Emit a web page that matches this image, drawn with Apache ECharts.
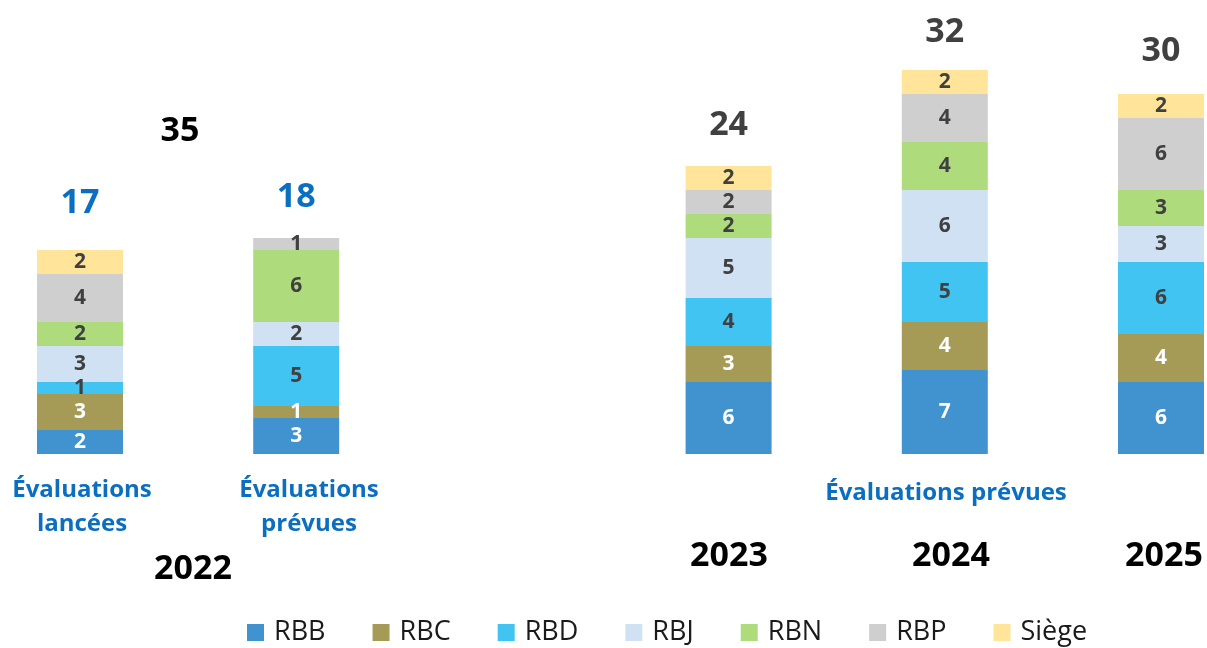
<!DOCTYPE html>
<html>
<head>
<meta charset="utf-8">
<script src="https://cdn.jsdelivr.net/npm/echarts@6/dist/echarts.min.js"></script>
<style>
  html, body { margin: 0; padding: 0; background: #fff; }
</style>
</head>
<body>
<div id="main" style="width: 1207px;height:648px;"></div>
<script type="text/javascript">
    // catégories : 2022 lancées, 2022 prévues, (vide), 2023, 2024, 2025
    var categories = ['2022 lancées', '2022 prévues', '', '2023', '2024', '2025'];
    var rbb   = [2, 3, '-', 6, 7, 6];
    var rbc   = [3, 1, '-', 3, 4, 4];
    var rbd   = [1, 5, '-', 4, 5, 6];
    var rbj   = [3, 2, '-', 5, 6, 3];
    var rbn   = [2, 6, '-', 2, 4, 3];
    var rbp   = [4, 1, '-', 2, 4, 6];
    var siege = [2, '-', '-', 2, 2, 2];
    var totals = [17, 18, '-', 24, 32, 30];

    var blue = '#0b6fc1';
    var dark = '#404040';
    var font = '"Open Sans", "Noto Sans", sans-serif';

    var myChart = echarts.init(document.getElementById('main'));

    function seg(name, data, color, labelColor) {
        return {
            name: name,
            type: 'bar',
            stack: 'total',
            barWidth: 86,
            data: data,
            itemStyle: { color: color },
            label: {
                show: true,
                position: 'inside',
                color: labelColor,
                fontFamily: font,
                fontWeight: 'bold',
                fontSize: 21
            },
            emphasis: { disabled: true }
        };
    }

    // décalage vertical des totaux au-dessus des barres
    var totalLift = [47, 41, 0, 41, 38, 43];
    var totalColor = [blue, blue, dark, dark, dark, dark];

    var option = {
        animation: false,
        grid: { left: 80, right: 46, top: 22, bottom: 194 },
        legend: {
            data: ['RBB', 'RBC', 'RBD', 'RBJ', 'RBN', 'RBP', 'Siège'],
            left: 242,
            top: 614,
            itemWidth: 17,
            itemHeight: 17,
            itemGap: 47,
            icon: 'rect',
            textStyle: { fontFamily: font, fontSize: 27, color: '#1a1a1a', padding: [0, 0, 0, 5] }
        },
        xAxis: {
            type: 'category',
            data: categories,
            boundaryGap: false,
            show: false
        },
        yAxis: {
            type: 'value',
            min: 0,
            max: 36,
            show: false
        },
        series: [
            seg('RBB', rbb, '#4193d0', '#ffffff'),
            seg('RBC', rbc, '#a59a56', '#ffffff'),
            seg('RBD', rbd, '#41c4f2', dark),
            seg('RBJ', rbj, '#cfe1f2', dark),
            seg('RBN', rbn, '#aedc7c', dark),
            seg('RBP', rbp, '#cfcfcf', dark),
            seg('Siège', siege, '#ffe499', dark),
            {
                name: 'total',
                type: 'scatter',
                symbolSize: 1,
                itemStyle: { color: 'transparent', opacity: 1 },
                data: totals.map(function (v, i) {
                    return {
                        value: v,
                        label: { offset: [0, -totalLift[i]], color: totalColor[i] }
                    };
                }),
                label: {
                    show: true,
                    position: 'inside',
                    opacity: 1,
                    fontFamily: font,
                    fontWeight: 'bold',
                    fontSize: 34
                },
                emphasis: { disabled: true },
                z: 5
            }
        ],
        graphic: [
            { type: 'text', x: 180, y: 131, style: { text: '35', fill: '#000', font: 'bold 34px ' + font, align: 'center', verticalAlign: 'middle' } },
            { type: 'text', x: 82, y: 490, style: { text: 'Évaluations', fill: blue, font: 'bold 24px ' + font, align: 'center', verticalAlign: 'middle' } },
            { type: 'text', x: 82, y: 524, style: { text: 'lancées', fill: blue, font: 'bold 24px ' + font, align: 'center', verticalAlign: 'middle' } },
            { type: 'text', x: 309, y: 490, style: { text: 'Évaluations', fill: blue, font: 'bold 24px ' + font, align: 'center', verticalAlign: 'middle' } },
            { type: 'text', x: 309, y: 524, style: { text: 'prévues', fill: blue, font: 'bold 24px ' + font, align: 'center', verticalAlign: 'middle' } },
            { type: 'text', x: 193, y: 569, style: { text: '2022', fill: '#000', font: 'bold 34px ' + font, align: 'center', verticalAlign: 'middle' } },
            { type: 'text', x: 946, y: 493, style: { text: 'Évaluations prévues', fill: blue, font: 'bold 24px ' + font, align: 'center', verticalAlign: 'middle' } },
            { type: 'text', x: 729, y: 556, style: { text: '2023', fill: '#000', font: 'bold 34px ' + font, align: 'center', verticalAlign: 'middle' } },
            { type: 'text', x: 951, y: 556, style: { text: '2024', fill: '#000', font: 'bold 34px ' + font, align: 'center', verticalAlign: 'middle' } },
            { type: 'text', x: 1164, y: 556, style: { text: '2025', fill: '#000', font: 'bold 34px ' + font, align: 'center', verticalAlign: 'middle' } }
        ]
    };

    myChart.setOption(option);
</script>
</body>
</html>
